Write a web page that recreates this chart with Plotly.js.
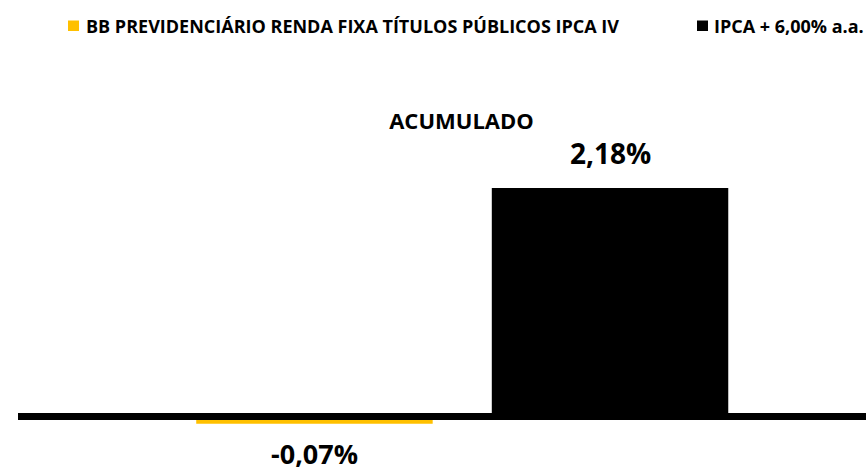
<!DOCTYPE html>
<html>
<head>
<meta charset="utf-8">
<script src="https://cdn.plot.ly/plotly-3.0.1.min.js"></script>
<style>html,body{margin:0;padding:0;background:#fff;}#chart{width:866px;height:472px;}</style>
</head>
<body>
<div id="chart"></div>
<script>
const seriesNames = ["BB PREVIDENCIÁRIO RENDA FIXA TÍTULOS PÚBLICOS IPCA IV", "IPCA + 6,00% a.a."];
const seriesValues = [-0.07, 2.18];
const seriesColors = ["#FFC000", "#000000"];
const chartTitle = "ACUMULADO";

const FONT = "'Open Sans', sans-serif";
function fmt(v){ return v.toFixed(2).replace('.', ',') + '%'; }

const traces = seriesNames.map((n, i) => ({
  type: 'bar', name: n, x: [n], y: [seriesValues[i]], width: 0.8,
  marker: {color: seriesColors[i], line: {width: 0}},
  hoverinfo: 'skip', showlegend: false
}));

const W = 848, H = 472, L = 18;
const px = x => (x - L) / W;
const py = y => 1 - y / H;

const annotations = seriesNames.map((n, i) => ({
  x: n, y: seriesValues[i], xref: 'x', yref: 'y', text: '<b>' + fmt(seriesValues[i]) + '</b>',
  showarrow: false, yanchor: 'middle', borderpad: 0,
  yshift: seriesValues[i] >= 0 ? 35 : -30,
  font: {family: FONT, size: seriesValues[i] >= 0 ? 28 : 27, color: '#000'}
}));

// custom legend: square + label
const legendSq = [68, 697];
const legendTx = [85, 713];
const shapes = [{type: 'line', xref: 'paper', yref: 'y', x0: 0, x1: 1, y0: 0, y1: 0,
                 line: {color: '#000', width: 7}, layer: 'above'}];
seriesNames.forEach((n, i) => {
  shapes.push({type: 'rect', xref: 'paper', yref: 'paper',
               x0: px(legendSq[i]), x1: px(legendSq[i] + 11), y0: py(31), y1: py(20.5),
               fillcolor: seriesColors[i], line: {width: 0}});
  annotations.push({
    xref: 'paper', yref: 'paper', x: px(legendTx[i]), y: py(25.5),
    xanchor: 'left', yanchor: 'middle', showarrow: false, borderpad: 0,
    text: '<b>' + n + '</b>',
    font: {family: FONT, size: 18, color: '#000'}
  });
});

const layout = {
  width: 866, height: 472,
  margin: {l: L, r: 0, t: 0, b: 0},
  paper_bgcolor: '#fff', plot_bgcolor: '#fff',
  barmode: 'overlay',
  showlegend: false,
  title: {text: '<b>' + chartTitle + '</b>', x: 461.5 / 866, xref: 'container', xanchor: 'center',
          y: 1 - 121 / 472, yref: 'container', yanchor: 'middle',
          font: {family: FONT, size: 22, color: '#000'}},
  xaxis: {type: 'category', range: [-1.003, 1.866], showticklabels: false, showgrid: false,
          zeroline: false, showline: false, ticks: '', fixedrange: true},
  yaxis: {range: [-0.5296, 3.974], showticklabels: false, showgrid: false, zeroline: false,
          showline: false, ticks: '', fixedrange: true},
  shapes: shapes,
  annotations: annotations
};

Plotly.newPlot('chart', traces, layout, {displayModeBar: false, staticPlot: true});
</script>
</body>
</html>
